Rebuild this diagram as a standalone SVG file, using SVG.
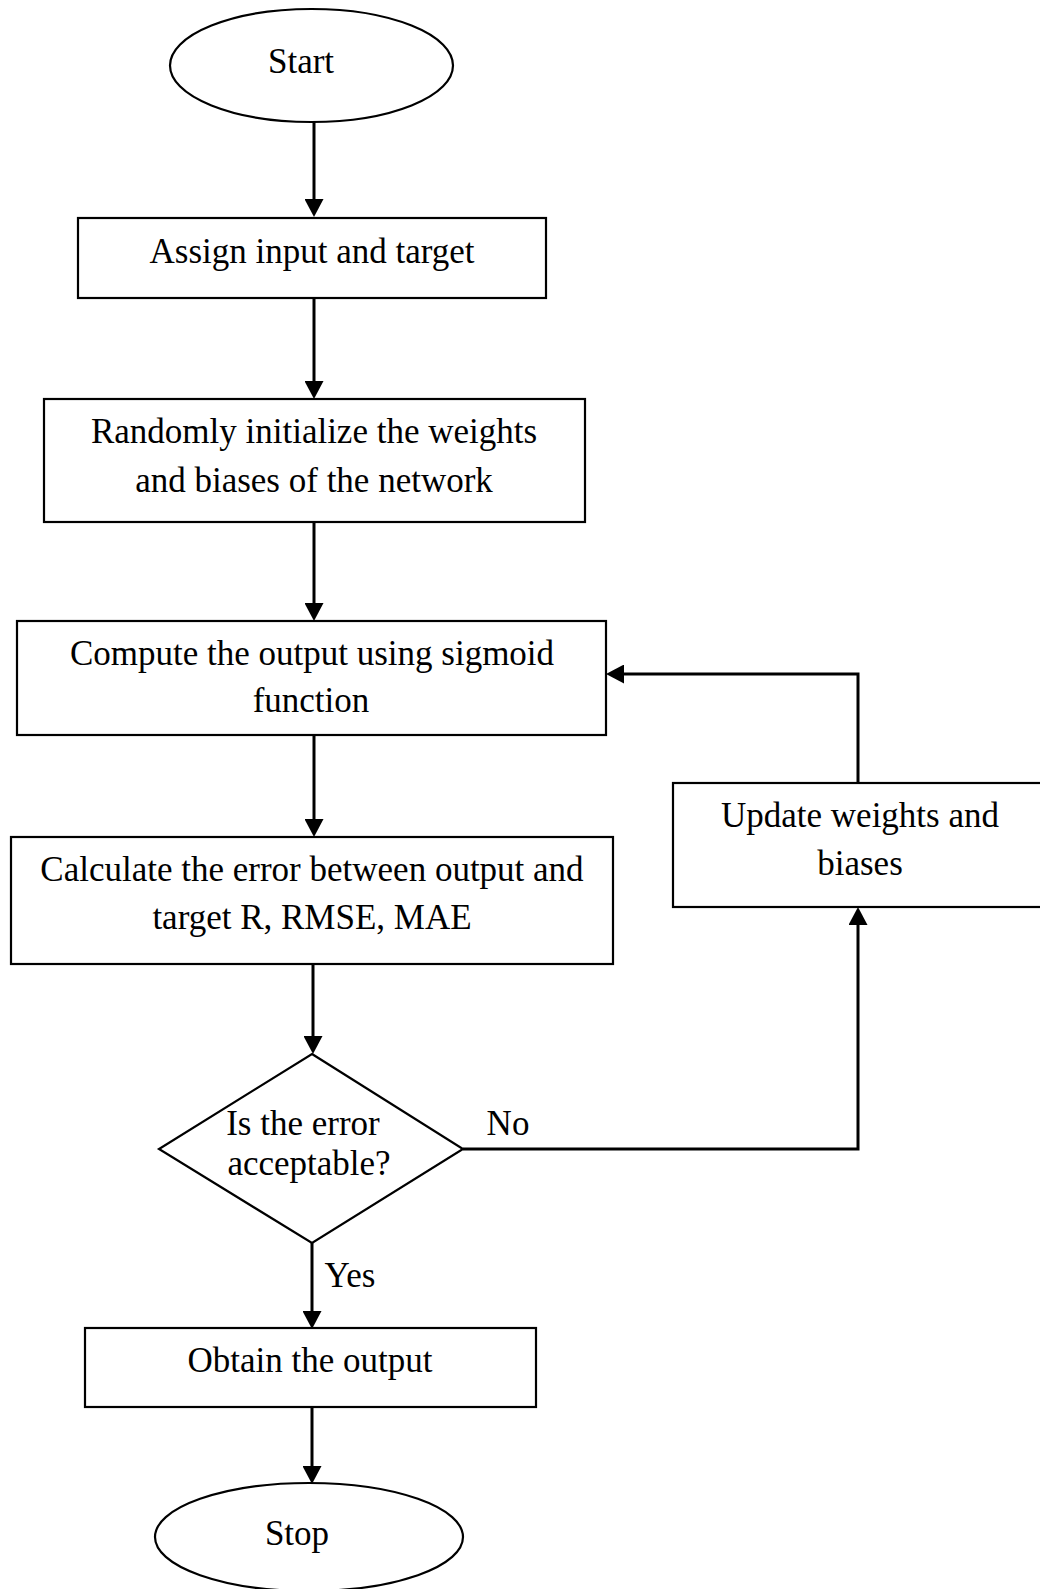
<svg xmlns="http://www.w3.org/2000/svg" width="1040" height="1589" viewBox="0 0 1040 1589">
  <style>
    .shape { fill: #fff; stroke: #000; stroke-width: 2.2; }
    .conn { fill: none; stroke: #000; stroke-width: 3; marker-end: url(#head); }
    .label { font-family: "Liberation Serif", "Times New Roman", serif; font-size: 35px; fill: #000; text-anchor: middle; }
  </style>
  <defs>
    <!-- filled arrowhead; the tip sits 12px past the end of the stroke -->
    <marker id="head" markerUnits="userSpaceOnUse" markerWidth="18" markerHeight="19" refX="6" refY="9.5" orient="auto">
      <path d="M0,0 L18,9.5 L0,19 Z" fill="#000"/>
    </marker>
  </defs>
  <rect width="1040" height="1589" fill="#fff"/>

  <!-- connectors -->
  <g id="connectors">
    <path class="conn" d="M314,122 L314,205"/>
    <path class="conn" d="M314,298 L314,387"/>
    <path class="conn" d="M314,522 L314,609"/>
    <path class="conn" d="M314,735 L314,825"/>
    <path class="conn" d="M313,964 L313,1042"/>
    <path class="conn" d="M312,1243 L312,1317"/>
    <path class="conn" d="M312,1407 L312,1472"/>
    <path class="conn" d="M463,1149 L858,1149 L858,919"/>
    <path class="conn" d="M858,783 L858,674 L618,674"/>
  </g>

  <g id="start">
    <ellipse class="shape" cx="311.5" cy="65.5" rx="141.5" ry="56.5"/>
    <text class="label" x="301" y="73">Start</text>
  </g>

  <g id="assign">
    <rect class="shape" x="78" y="218" width="468" height="80"/>
    <text class="label" x="312" y="263">Assign input and target</text>
  </g>

  <g id="init">
    <rect class="shape" x="44" y="399" width="541" height="123"/>
    <text class="label" x="314" y="443">Randomly initialize the weights</text>
    <text class="label" x="314" y="492">and biases of the network</text>
  </g>

  <g id="compute">
    <rect class="shape" x="17" y="621" width="589" height="114"/>
    <text class="label" x="312" y="665">Compute the output using sigmoid</text>
    <text class="label" x="311" y="712">function</text>
  </g>

  <g id="calculate">
    <rect class="shape" x="11" y="837" width="602" height="127"/>
    <text class="label" x="312" y="881">Calculate the error between output and</text>
    <text class="label" x="312" y="929">target R, RMSE, MAE</text>
  </g>

  <g id="decision">
    <polygon class="shape" points="312,1054 463,1149 312,1243 159,1149"/>
    <text class="label" x="303" y="1135">Is the error</text>
    <text class="label" x="309" y="1175">acceptable?</text>
  </g>

  <g id="update">
    <rect class="shape" x="673" y="783" width="372" height="124"/>
    <text class="label" x="860" y="827">Update weights and</text>
    <text class="label" x="860" y="875">biases</text>
  </g>

  <g id="obtain">
    <rect class="shape" x="85" y="1328" width="451" height="79"/>
    <text class="label" x="310" y="1372">Obtain the output</text>
  </g>

  <g id="stop">
    <ellipse class="shape" cx="309" cy="1537" rx="154" ry="54"/>
    <text class="label" x="297" y="1545">Stop</text>
  </g>

  <g id="branch-labels">
    <text class="label" x="508" y="1135">No</text>
    <text class="label" x="350" y="1287">Yes</text>
  </g>
</svg>
